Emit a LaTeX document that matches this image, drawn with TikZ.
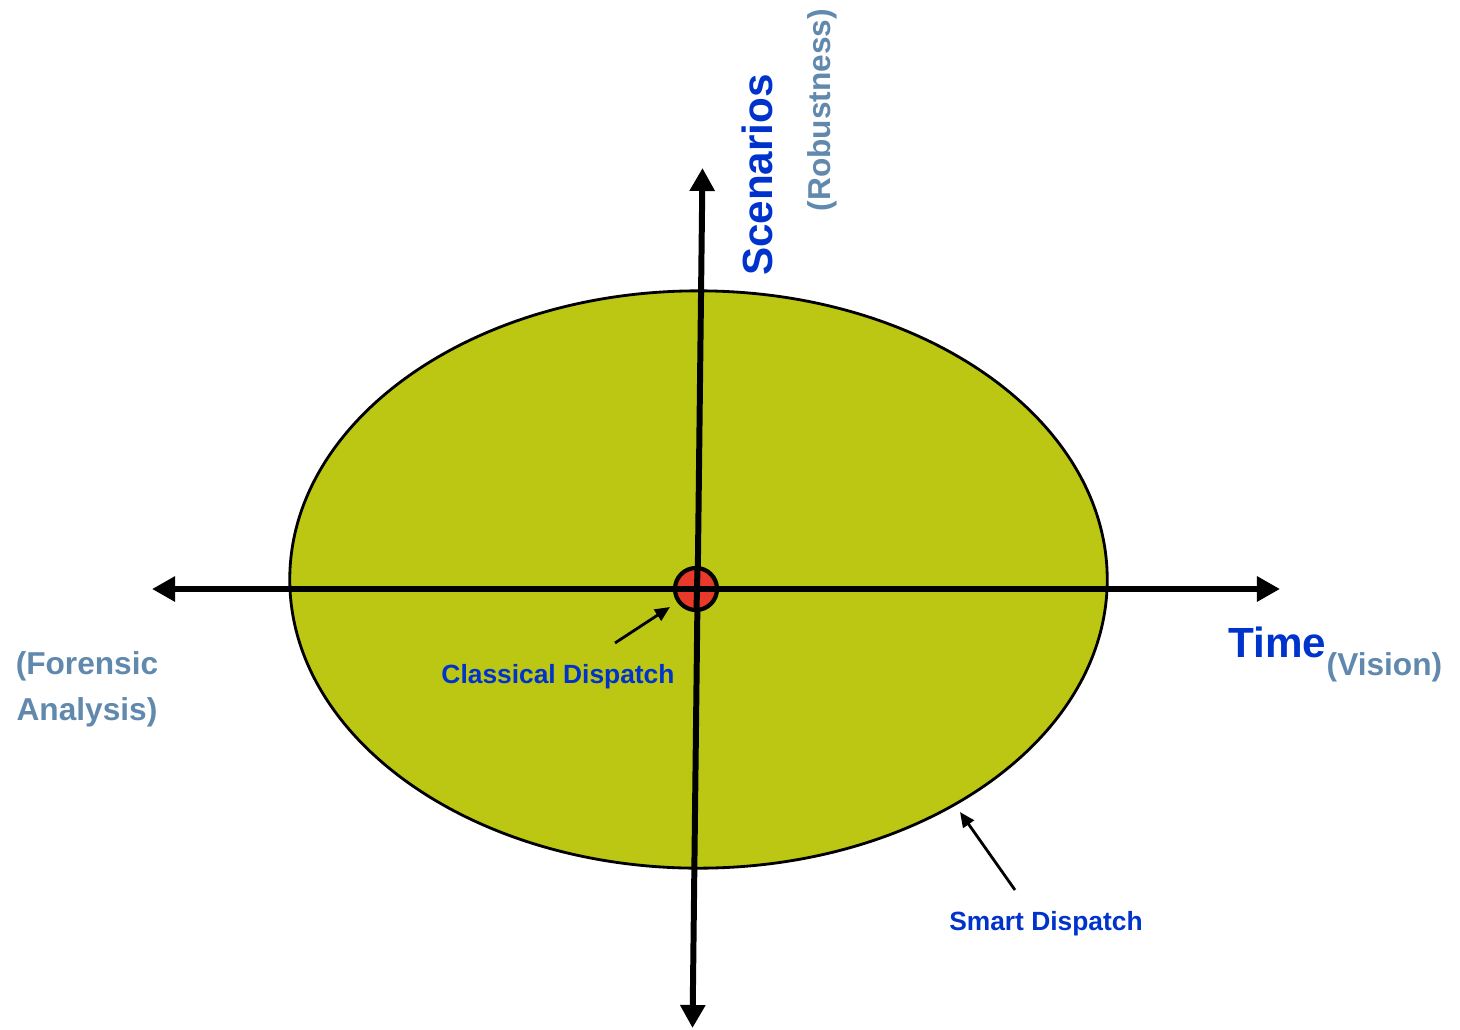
\documentclass[tikz,border=0pt]{standalone}
\usepackage{fontspec}
\setmainfont{Liberation Sans}
\usepackage{xcolor}
\usetikzlibrary{arrows.meta,positioning}
\definecolor{areaolive}{HTML}{BBC713}
\definecolor{dotred}{HTML}{E8392B}
\definecolor{axisblue}{HTML}{0033CC}
\definecolor{notegrey}{HTML}{6089AD}

\begin{document}
\begin{tikzpicture}[
    x=0.01cm, y=-0.01cm,
    axis/.style={{Triangle[length=2.3mm,width=2.4mm]}-{Triangle[length=2.3mm,width=2.4mm]}, line width=1.7pt},
    pointer/.style={-{Triangle[length=1.5mm,width=1.3mm]}, line width=0.8pt},
    axislabel/.style={font=\fontsize{12}{14}\selectfont\bfseries, text=axisblue, inner sep=0pt},
    note/.style={font=\fontsize{9}{13}\selectfont\bfseries, text=notegrey, inner sep=0pt, align=center},
    caption/.style={font=\fontsize{7.5}{9}\selectfont\bfseries, text=axisblue, inner sep=0pt},
]
    \useasboundingbox (0,0) rectangle (1460,1030);

    % the area
    \fill[areaolive, draw=black, line width=0.8pt] (698.5,579.5) ellipse [x radius=4.085cm, y radius=2.885cm];

    % axes
    \coordinate (west) at (152,589);
    \coordinate (east) at (1280,589);
    \coordinate (north) at (702.5,168);
    \coordinate (south) at (692.5,1028);
    \draw[axis] (west) -- (east);
    \draw[axis] (south) -- (north);

    \node[circle, draw, line width=1.2pt, fill=dotred, minimum size=0.42cm, inner sep=0pt] (dot) at (696,589) {};
    \draw[line width=1.7pt] (dot.west) -- (dot.east);
    \draw[line width=1.7pt] (697.5,568) -- (696.5,610);

    % labels
    \node[axislabel, rotate=90] (scen) at (757,175) {Scenarios};
    \node[note, rotate=90] (robust) at (822,110) {(Robustness)};
    \node[axislabel, anchor=base west] (time) at (1228,657) {Time};
    \node[note, anchor=base west] (vision) at (1326,675) {(Vision)};
    \node[note] (forensic) at (87,689) {(Forensic\\Analysis)};

    \node[caption] (classic) at (558,677) {Classical Dispatch};
    \node[caption] (smart) at (1046,924) {Smart Dispatch};

    \coordinate (c0) at (615,643);
    \coordinate (c1) at (670,607);
    \coordinate (s0) at (1015,890);
    \coordinate (s1) at (960,812);
    \draw[pointer] (c0) -- (c1);
    \draw[pointer] (s0) -- (s1);
\end{tikzpicture}
\end{document}
